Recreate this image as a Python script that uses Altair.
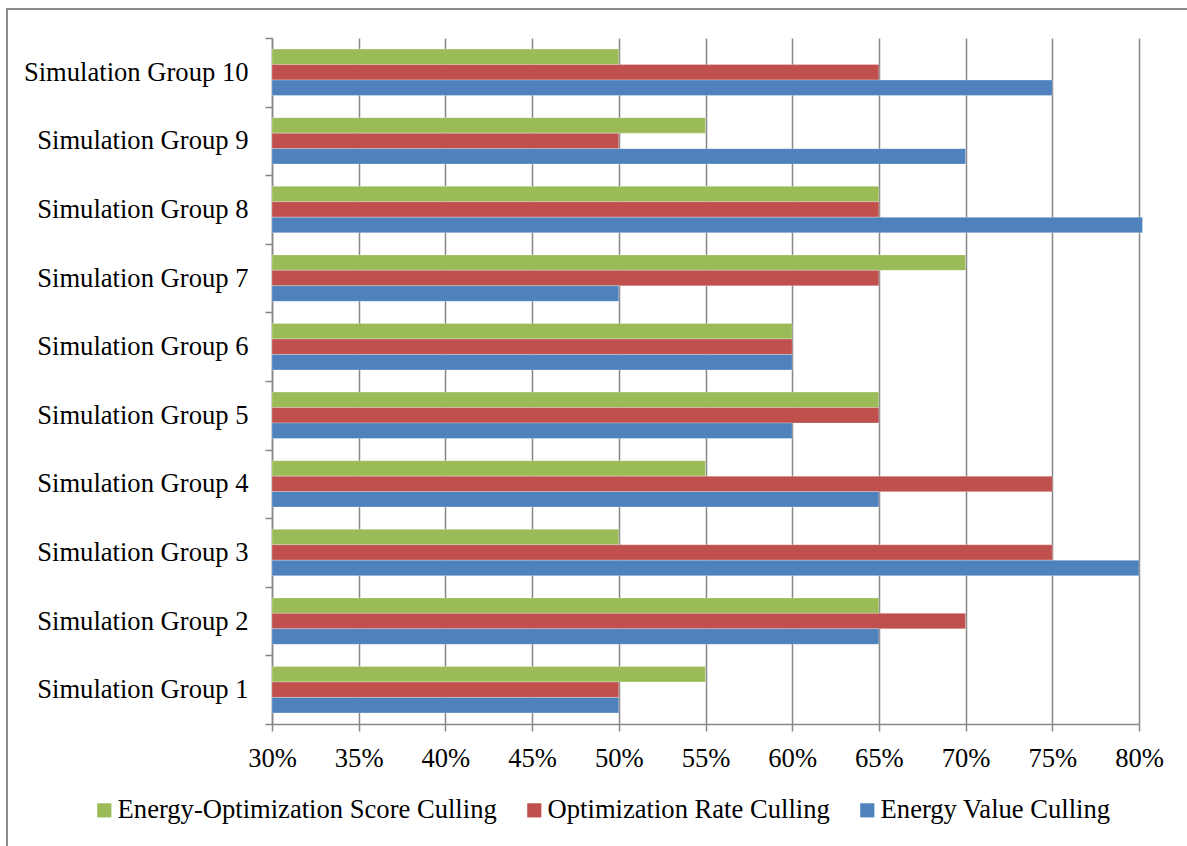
import altair as alt
import pandas as pd

# Categories (bottom to top) and series
groups = [f"Simulation Group {i}" for i in range(1, 11)]
series = [
    "Energy-Optimization Score Culling",
    "Optimization Rate Culling",
    "Energy Value Culling",
]
colors = ["#9BBB59", "#C0504D", "#4F81BD"]

# Culling ratios per simulation group (Group 1 ... Group 10)
score_culling = [0.55, 0.65, 0.50, 0.55, 0.65, 0.60, 0.70, 0.65, 0.55, 0.50]
rate_culling = [0.50, 0.70, 0.75, 0.75, 0.65, 0.60, 0.65, 0.65, 0.50, 0.65]
energy_culling = [0.50, 0.65, 0.80, 0.65, 0.60, 0.60, 0.50, 0.802, 0.70, 0.75]

x_ticks = [0.30, 0.35, 0.40, 0.45, 0.50, 0.55, 0.60, 0.65, 0.70, 0.75, 0.80]

rows = []
for name, vals in zip(series, [score_culling, rate_culling, energy_culling]):
    for g, v in zip(groups, vals):
        rows.append({"group": g, "series": name, "value": v})
df = pd.DataFrame(rows)

FONT = "Liberation Serif"
GRAY = "#878787"
FS = 26.6

bars = alt.Chart(df).mark_bar(stroke="white", strokeWidth=0.6, strokeOpacity=0.45).encode(
    y=alt.Y(
        "group:N",
        sort=groups[::-1],
        scale=alt.Scale(paddingInner=0, paddingOuter=0),
        axis=alt.Axis(
            title=None,
            tickBand="extent",
            tickSize=7,
            tickColor=GRAY,
            tickWidth=1.5,
            domainColor=GRAY,
            domainWidth=1.5,
            labelFont=FONT,
            labelFontSize=FS,
            labelColor="black",
            labelPadding=17,
            labelLimit=400,
            grid=False,
        ),
    ),
    # three bars per group, centred in each category band
    yOffset=alt.YOffset(
        "series:N",
        sort=series,
        scale=alt.Scale(domain=series, paddingInner=0, paddingOuter=0.717),
    ),
    x=alt.X(
        "value:Q",
        scale=alt.Scale(domain=[0.3, 0.8], zero=False, nice=False),
        axis=alt.Axis(
            title=None,
            values=x_ticks,
            format=".0%",
            grid=True,
            gridColor=GRAY,
            gridWidth=1.5,
            tickSize=7,
            tickColor=GRAY,
            tickWidth=1.5,
            domainColor=GRAY,
            domainWidth=1.5,
            labelFont=FONT,
            labelFontSize=FS,
            labelColor="black",
            labelPadding=14,
            labelFlush=False,
        ),
    ),
    x2=alt.X2(datum=0.3),
    color=alt.Color(
        "series:N",
        scale=alt.Scale(domain=series, range=colors),
        legend=alt.Legend(
            title=None,
            orient="none",
            legendX=-181,
            legendY=759,
            direction="horizontal",
            symbolType="square",
            symbolSize=200,
            symbolStrokeWidth=0,
            labelFont=FONT,
            labelFontSize=FS,
            labelColor="black",
            labelOffset=0,
            columnPadding=24,
            padding=0,
            labelLimit=600,
        ),
    ),
)

# Outer chart border
frame = alt.Chart(pd.DataFrame({"k": [0]})).mark_rect(
    filled=False, stroke="#8C8C8C", strokeWidth=2
).encode(
    x=alt.value(-265), x2=alt.value(925), y=alt.value(-29), y2=alt.value(818)
)

chart = alt.layer(frame, bars).properties(
    width=867,
    height=686,
    autosize=alt.AutoSizeParams(type="none"),
    padding={"left": 272, "top": 38, "right": 48, "bottom": 122},
    background="white",
).configure_view(stroke=None)

chart.save("out.html", embed_options={"renderer": "svg", "actions": False})
